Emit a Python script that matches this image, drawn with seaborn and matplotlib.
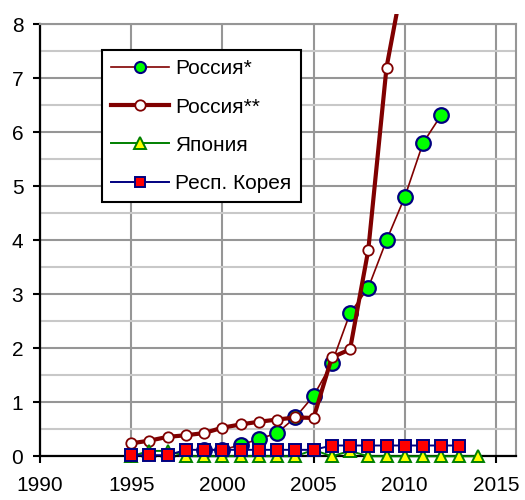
import matplotlib
matplotlib.use("Agg")
import matplotlib.pyplot as plt
import seaborn as sns
import numpy as np
import pandas as pd
from matplotlib.lines import Line2D
from matplotlib.transforms import Bbox, TransformedBbox

# ---- data ----
years_rus1 = [1999, 2000, 2001, 2002, 2003, 2004, 2005, 2006, 2007, 2008, 2009, 2010, 2011, 2012]
rus1 = [0.12, 0.12, 0.21, 0.32, 0.43, 0.72, 1.12, 1.72, 2.65, 3.12, 4.0, 4.8, 5.8, 6.32]

years_rus2 = [1995, 1996, 1997, 1998, 1999, 2000, 2001, 2002, 2003, 2004, 2005, 2006, 2007, 2008, 2009, 2010]
rus2 = [0.24, 0.29, 0.36, 0.39, 0.43, 0.53, 0.59, 0.64, 0.68, 0.72, 0.71, 1.83, 1.98, 3.82, 7.2, 9.0]

years_jap = list(range(1995, 2015))
jap = [0.0, 0.1, 0.1, 0.0, 0.0, 0.0, 0.0, 0.0, 0.0, 0.0, 0.12, 0.0, 0.1, 0.0, 0.0, 0.0, 0.0, 0.0, 0.0, 0.0]

years_kor = list(range(1995, 2014))
kor = [0.02, 0.02, 0.02, 0.12, 0.12, 0.12, 0.12, 0.12, 0.12, 0.12, 0.12,
       0.2, 0.2, 0.2, 0.2, 0.2, 0.2, 0.2, 0.2]

labels = ["Россия*", "Россия**", "Япония", "Респ. Корея"]
x_ticks = [1990, 1995, 2000, 2005, 2010, 2015]
y_ticks = [0, 1, 2, 3, 4, 5, 6, 7, 8]

plt.rcParams['font.family'] = ['Liberation Sans', 'DejaVu Sans']

fig = plt.figure(figsize=(5.25, 5.0), dpi=100)
ax = fig.add_axes([40/525, 1-456.3/500, 476/525, (456.3-24.3)/500])

DR = "#800000"
NAVY = "#000080"
GRN = "#008000"

sns.lineplot(x=years_rus1, y=rus1, ax=ax, color=DR, linewidth=1.2,
             marker="o", markersize=10.5, markerfacecolor="#00FF00",
             markeredgecolor=NAVY, markeredgewidth=1.6, zorder=3, clip_on=False)
sns.lineplot(x=years_rus2, y=rus2, ax=ax, color=DR, linewidth=3.0,
             marker="o", markersize=7.5, markerfacecolor="white",
             markeredgecolor=DR, markeredgewidth=1.3, zorder=4)
sns.lineplot(x=years_jap, y=jap, ax=ax, color=GRN, linewidth=1.4,
             marker="^", markersize=9, markerfacecolor="#FFFF00",
             markeredgecolor=GRN, markeredgewidth=1.4, zorder=5, clip_on=False)
sns.lineplot(x=years_kor, y=kor, ax=ax, color=NAVY, linewidth=1.4,
             marker="s", markersize=8, markerfacecolor="#FF0000",
             markeredgecolor=NAVY, markeredgewidth=1.4, zorder=6, clip_on=False)

# let the thick line run a little above the plot, as in the reference
ext = Bbox([[-0.05, -0.05], [1.05, 1 + 10.3/432]])
ax.lines[1].set_clip_box(TransformedBbox(ext, ax.transAxes))

ax.set_xlim(1990, 2016.1)
ax.set_ylim(0, 8)
ax.set_xticks(x_ticks)
ax.set_yticks(y_ticks)
ax.set_yticks(np.arange(0.5, 8, 1.0), minor=True)
ax.set_xlabel("")
ax.set_ylabel("")

ax.grid(True, which="major", axis="both", color="#969696", linewidth=1.5, zorder=0)
ax.grid(True, which="minor", axis="y", color="#c8c8c8", linewidth=1.5, zorder=0)
ax.set_axisbelow(True)

for s in ["left", "bottom"]:
    ax.spines[s].set_color("black")
    ax.spines[s].set_linewidth(1.6)
    ax.spines[s].set_zorder(2.5)
for s in ["top", "right"]:
    ax.spines[s].set_color("#969696")
    ax.spines[s].set_linewidth(1.5)

ax.tick_params(axis="both", which="major", direction="out", length=5,
               width=1.5, labelsize=15, colors="black")
ax.tick_params(axis="x", pad=9)
ax.tick_params(axis="y", pad=7)
ax.tick_params(axis="y", which="minor", length=0)

handles = [
    Line2D([], [], color=DR, linewidth=1.2, marker="o", markersize=8,
           markerfacecolor="#00FF00", markeredgecolor=NAVY, markeredgewidth=1.5),
    Line2D([], [], color=DR, linewidth=3.0, marker="o", markersize=7.5,
           markerfacecolor="white", markeredgecolor=DR, markeredgewidth=1.3),
    Line2D([], [], color=GRN, linewidth=1.4, marker="^", markersize=9,
           markerfacecolor="#FFFF00", markeredgecolor=GRN, markeredgewidth=1.4),
    Line2D([], [], color=NAVY, linewidth=1.4, marker="s", markersize=7.5,
           markerfacecolor="#FF0000", markeredgecolor=NAVY, markeredgewidth=1.4),
]
leg = ax.legend(handles, labels, loc="upper left",
                bbox_to_anchor=(102/525, 1-50/500), bbox_transform=fig.transFigure,
                fontsize=15, frameon=True, fancybox=False, framealpha=1,
                edgecolor="black", handlelength=2.75, handletextpad=0.3,
                labelspacing=0.92, borderpad=0.45, borderaxespad=0)
leg.get_frame().set_linewidth(1.5)
leg.set_zorder(10)

fig.savefig("out.png", dpi=100)
